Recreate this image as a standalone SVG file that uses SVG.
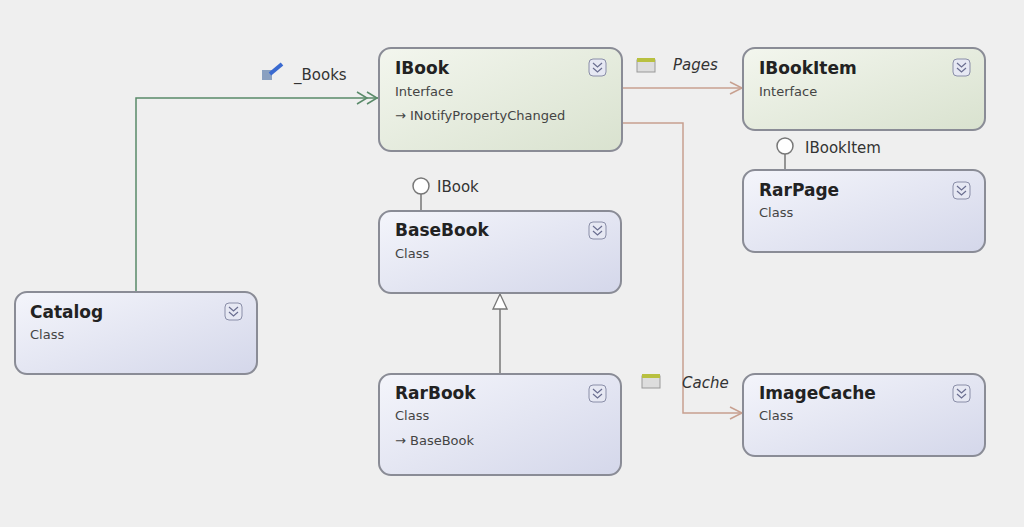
<svg xmlns="http://www.w3.org/2000/svg" width="1024" height="527" viewBox="0 0 1024 527">
<defs>
<linearGradient id="gb" x1="0" y1="0" x2="1" y2="1"><stop offset="0" stop-color="#f4f5fb"/><stop offset="1" stop-color="#d4d7ea"/></linearGradient>
<linearGradient id="gg" x1="0" y1="0" x2="1" y2="1"><stop offset="0" stop-color="#f3f6ee"/><stop offset="1" stop-color="#d9e2cf"/></linearGradient>
<marker id="dbl" markerWidth="26" markerHeight="14" refX="24" refY="7" orient="auto" markerUnits="userSpaceOnUse"><path d="M2,1 L12,7 L2,13 M12,1 L22,7 L12,13" fill="none" stroke="#5a8a6a" stroke-width="1.5"/></marker>
<marker id="op" markerWidth="16" markerHeight="14" refX="15" refY="7" orient="auto" markerUnits="userSpaceOnUse"><path d="M2,1 L14,7 L2,13" fill="none" stroke="#c8a090" stroke-width="1.5"/></marker>
<marker id="tri" markerWidth="18" markerHeight="16" refX="16" refY="8" orient="auto" markerUnits="userSpaceOnUse"><path d="M1,1 L16,8 L1,15 Z" fill="#fff" stroke="#777" stroke-width="1.3"/></marker>
</defs>
<style>
.n{stroke:#8a8c96;stroke-width:2}
.t{font-family:"DejaVu Sans",sans-serif;font-weight:bold;font-size:17px;fill:#222}
.s{font-family:"DejaVu Sans",sans-serif;font-size:13px;fill:#444}
.l{font-family:"DejaVu Sans",sans-serif;font-size:15px;fill:#333}
.i{font-family:"DejaVu Sans",sans-serif;font-style:italic;font-size:15px;fill:#333}
.b{fill:#e6e8f3;stroke:#8a8ea8;stroke-width:1}
.ex{fill:none;stroke:#6a6e90;stroke-width:1.2}
</style>
<rect width="1024" height="527" fill="#efefef"/>
<g id="connectors" fill="none">
<path d="M136,292 V98 H379" stroke="#5a8a6a" stroke-width="1.5" marker-end="url(#dbl)"/>
<path d="M622,88 H743" stroke="#c8a090" stroke-width="1.5" marker-end="url(#op)"/>
<path d="M622,123 H683 V413 H743" stroke="#c8a090" stroke-width="1.5" marker-end="url(#op)"/>
<path d="M500,374 V294" stroke="#777" stroke-width="1.5" marker-end="url(#tri)"/>
<path d="M421,194 V211 M785,154 V170" stroke="#777" stroke-width="1.5"/>
<circle cx="421" cy="186" r="8" fill="#fff" stroke="#777" stroke-width="1.5"/>
<circle cx="785" cy="146" r="8" fill="#fff" stroke="#777" stroke-width="1.5"/>
<text class="l" x="437" y="192">IBook</text>
<text class="l" x="805" y="153">IBookItem</text>
<text class="l" x="294" y="80">_Books</text>
<text class="i" x="673" y="70">Pages</text>
<text class="i" x="682" y="388">Cache</text>
<rect x="262" y="70" width="10" height="10" fill="#8aa0c0"/><path d="M270,74 L282,64" stroke="#3a6ad0" stroke-width="4"/>
<rect x="637" y="60" width="18" height="12" fill="#ddd" stroke="#999"/><rect x="637" y="58" width="18" height="4" fill="#b8c040"/>
<rect x="642" y="376" width="18" height="12" fill="#ddd" stroke="#999"/><rect x="642" y="374" width="18" height="4" fill="#b8c040"/>
</g>
<g id="IBook"><rect class="n" x="379" y="48" width="243" height="103" rx="12" fill="url(#gg)"/><text class="t" x="395" y="74">IBook</text><text class="s" x="395" y="96">Interface</text><text class="s" x="395" y="120">→ INotifyPropertyChanged</text><rect class="b" x="589" y="59" width="17" height="17" rx="4"/><path class="ex" d="M593,63 l4.5,4 l4.5,-4 M593,68 l4.5,4 l4.5,-4"/></g>
<g id="IBookItem"><rect class="n" x="743" y="48" width="242" height="82" rx="12" fill="url(#gg)"/><text class="t" x="759" y="74">IBookItem</text><text class="s" x="759" y="96">Interface</text><rect class="b" x="953" y="59" width="17" height="17" rx="4"/><path class="ex" d="M957,63 l4.5,4 l4.5,-4 M957,68 l4.5,4 l4.5,-4"/></g>
<g id="RarPage"><rect class="n" x="743" y="170" width="242" height="82" rx="12" fill="url(#gb)"/><text class="t" x="759" y="196">RarPage</text><text class="s" x="759" y="217">Class</text><rect class="b" x="953" y="182" width="17" height="17" rx="4"/><path class="ex" d="M957,186 l4.5,4 l4.5,-4 M957,191 l4.5,4 l4.5,-4"/></g>
<g id="BaseBook"><rect class="n" x="379" y="211" width="242" height="82" rx="12" fill="url(#gb)"/><text class="t" x="395" y="236">BaseBook</text><text class="s" x="395" y="258">Class</text><rect class="b" x="589" y="222" width="17" height="17" rx="4"/><path class="ex" d="M593,226 l4.5,4 l4.5,-4 M593,231 l4.5,4 l4.5,-4"/></g>
<g id="Catalog"><rect class="n" x="15" y="292" width="242" height="82" rx="12" fill="url(#gb)"/><text class="t" x="30" y="318">Catalog</text><text class="s" x="30" y="339">Class</text><rect class="b" x="225" y="303" width="17" height="17" rx="4"/><path class="ex" d="M229,307 l4.5,4 l4.5,-4 M229,312 l4.5,4 l4.5,-4"/></g>
<g id="RarBook"><rect class="n" x="379" y="374" width="242" height="101" rx="12" fill="url(#gb)"/><text class="t" x="395" y="399">RarBook</text><text class="s" x="395" y="420">Class</text><text class="s" x="395" y="445">→ BaseBook</text><rect class="b" x="589" y="385" width="17" height="17" rx="4"/><path class="ex" d="M593,389 l4.5,4 l4.5,-4 M593,394 l4.5,4 l4.5,-4"/></g>
<g id="ImageCache"><rect class="n" x="743" y="374" width="242" height="82" rx="12" fill="url(#gb)"/><text class="t" x="759" y="399">ImageCache</text><text class="s" x="759" y="420">Class</text><rect class="b" x="953" y="385" width="17" height="17" rx="4"/><path class="ex" d="M957,389 l4.5,4 l4.5,-4 M957,394 l4.5,4 l4.5,-4"/></g>
</svg>
